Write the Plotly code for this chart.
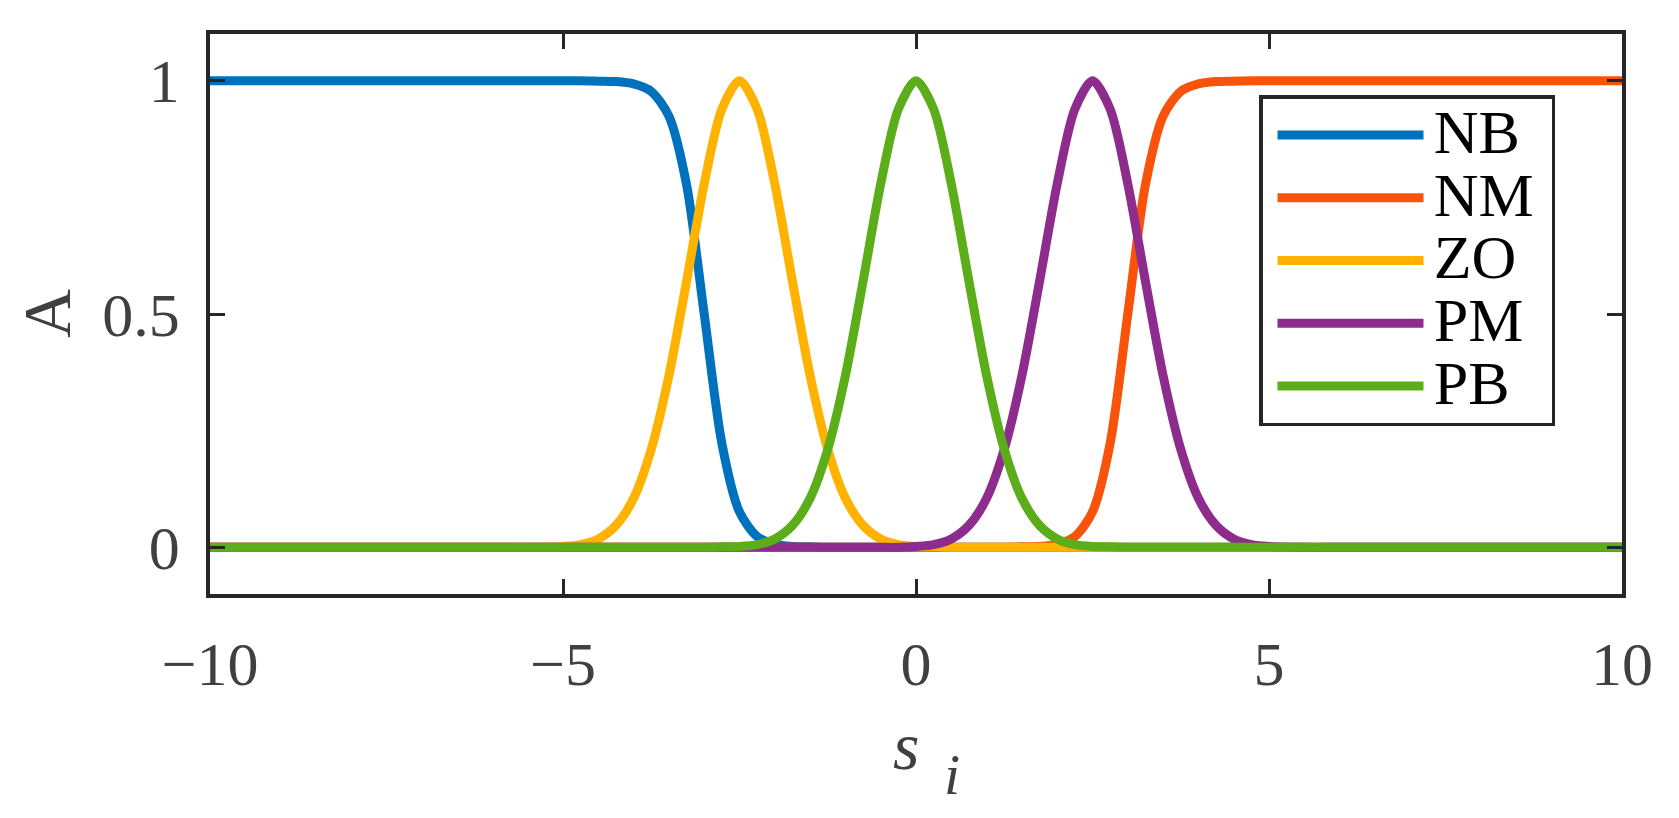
import plotly.graph_objects as go

# ---- data ----
x = [-10, -8, -6, -5.5, -5, -4.75, -4.5, -4.25, -4, -3.75, -3.5, -3.25, -3, -2.75,
     -2.5, -2.25, -2, -1.75, -1.5, -1.25, -1, -0.75, -0.5, -0.25, 0, 0.25, 0.5,
     0.75, 1, 1.25, 1.5, 1.75, 2, 2.25, 2.5, 2.75, 3, 3.25, 3.5, 3.75, 4, 4.25,
     4.5, 4.75, 5, 5.5, 6, 8, 10]

nb = [1, 1, 1, 1, 1, 1, 0.999, 0.998, 0.993, 0.977, 0.924, 0.777, 0.5, 0.223,
      0.076, 0.023, 0.007, 0.002, 0.001, 0, 0, 0, 0, 0, 0, 0, 0,
      0, 0, 0, 0, 0, 0, 0, 0, 0, 0, 0, 0, 0, 0, 0,
      0, 0, 0, 0, 0, 0, 0]

nm = [0, 0, 0, 0, 0, 0, 0, 0, 0, 0, 0, 0, 0, 0,
      0, 0, 0, 0, 0, 0, 0, 0, 0, 0, 0, 0, 0,
      0, 0, 0, 0.001, 0.002, 0.007, 0.023, 0.076, 0.223, 0.5, 0.777, 0.924, 0.977, 0.993, 0.998,
      0.999, 1, 1, 1, 1, 1, 1]

zo = [0, 0, 0, 0, 0.002, 0.006, 0.018, 0.047, 0.105, 0.21, 0.368, 0.57, 0.779, 0.939,
      1, 0.939, 0.779, 0.57, 0.368, 0.21, 0.105, 0.047, 0.018, 0.006, 0.002, 0.001, 0,
      0, 0, 0, 0, 0, 0, 0, 0, 0, 0, 0, 0, 0, 0, 0,
      0, 0, 0, 0, 0, 0, 0]

pm = [0, 0, 0, 0, 0, 0, 0, 0, 0, 0, 0, 0, 0, 0,
      0, 0, 0, 0, 0, 0, 0, 0, 0, 0, 0.002, 0.006, 0.018,
      0.047, 0.105, 0.21, 0.368, 0.57, 0.779, 0.939, 1, 0.939, 0.779, 0.57, 0.368, 0.21, 0.105, 0.047,
      0.018, 0.006, 0.002, 0, 0, 0, 0]

pb = [0, 0, 0, 0, 0, 0, 0, 0, 0, 0, 0, 0, 0, 0.001,
      0.002, 0.006, 0.018, 0.047, 0.105, 0.21, 0.368, 0.57, 0.779, 0.939, 1, 0.939, 0.779,
      0.57, 0.368, 0.21, 0.105, 0.047, 0.018, 0.006, 0.002, 0.001, 0, 0, 0, 0, 0, 0,
      0, 0, 0, 0, 0, 0, 0]

names = ["NB", "NM", "ZO", "PM", "PB"]
series = [nb, nm, zo, pm, pb]
colors = ["#0072BD", "#F9530B", "#FFB300", "#8E2C8E", "#5BAD19"]

x_ticks = [-10, -5, 0, 5, 10]
y_ticks = [0, 0.5, 1]
y_ticktext = ["0", "0.5", "1"]

FONT = "Liberation Serif"
AX = "#262626"
TXT = "#404040"

# page body has an 8px margin: lay out in viewport pixels, then convert
OFF = 8
W, H = 1679 - 2 * OFF, 818 - 2 * OFF
PL, PR, PT, PB_ = 210, 1622, 34, 594          # plot area in viewport px
PW, PH = PR - PL, PB_ - PT


def px(vx):
    return (vx - PL) / PW


def py(vy):
    return (PB_ - vy) / PH


fig = go.Figure()
for n, s, c in zip(names, series, colors):
    fig.add_trace(go.Scatter(
        x=x, y=s, mode="lines", line=dict(color=c, width=9, shape="spline", smoothing=0.8),
        name='<span style="font-size:62px">\u200a%s\u2009</span>' % n))

fig.update_layout(
    width=W, height=H,
    margin=dict(l=PL - OFF, r=W - (PR - OFF), t=PT - OFF, b=H - (PB_ - OFF)),
    paper_bgcolor="white", plot_bgcolor="white",
    font=dict(family=FONT, color=TXT),
    showlegend=True,
    legend=dict(x=px(1259), y=py(95), xanchor="left", yanchor="top",
                bgcolor="white", bordercolor=AX, borderwidth=3.5,
                font=dict(family=FONT, size=46, color="black"),
                itemwidth=146, indentation=10, tracegroupgap=0),
)
fig.update_xaxes(range=[-10, 10], tickvals=x_ticks, ticks="inside", ticklen=15,
                 tickwidth=3, tickcolor=AX, showline=True, linewidth=3.5, linecolor=AX,
                 mirror="ticks", showgrid=False, zeroline=False,
                 tickfont=dict(family=FONT, size=62, color=TXT), ticklabelstandoff=13)
fig.update_yaxes(range=[-0.1, 1.1], tickvals=y_ticks, ticktext=y_ticktext, ticks="inside",
                 ticklen=15, tickwidth=3, tickcolor=AX, showline=True, linewidth=3.5,
                 linecolor=AX, mirror="ticks", showgrid=False, zeroline=False,
                 tickfont=dict(family=FONT, size=62, color=TXT), ticklabelstandoff=14)

# axis titles
fig.add_annotation(text="A", xref="paper", yref="paper", x=px(47), y=0.5,
                   xanchor="center", yanchor="middle", textangle=-90, showarrow=False,
                   font=dict(family=FONT, size=68, color=TXT))
fig.add_annotation(text="<i>s</i>", xref="paper", yref="paper", x=px(906),
                   y=py(746), xanchor="center", yanchor="middle", showarrow=False,
                   font=dict(family=FONT, size=68, color=TXT))
fig.add_annotation(text="<i>i</i>", xref="paper", yref="paper", x=px(952),
                   y=py(809), xanchor="center", yanchor="bottom", showarrow=False,
                   font=dict(family=FONT, size=58, color=TXT))

fig.write_html("out.html")
